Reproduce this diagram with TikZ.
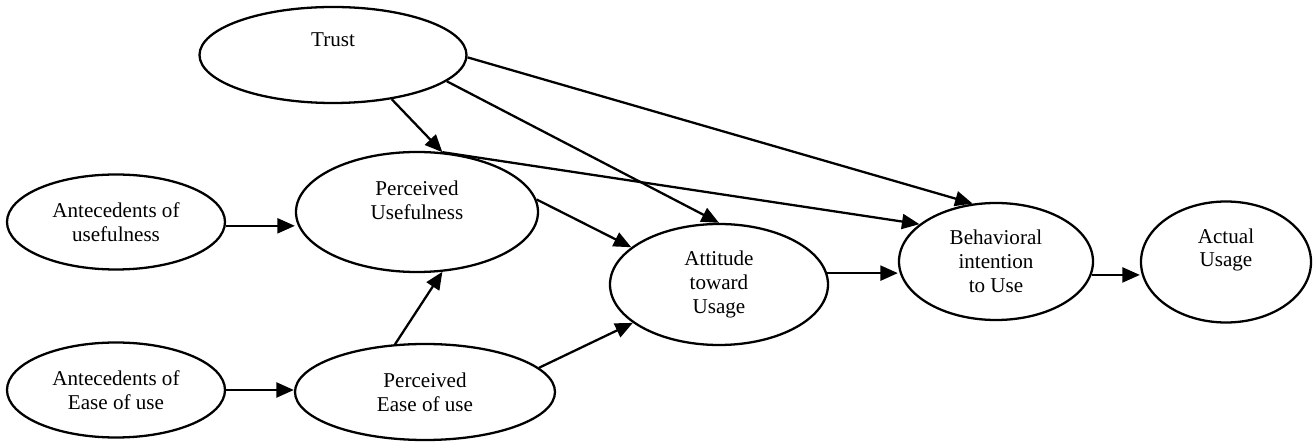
\documentclass[tikz,border=0pt]{standalone}
\usepackage{fontspec}
\setmainfont{Liberation Serif}
\usetikzlibrary{shapes.geometric,arrows.meta}
\tikzset{
  construct/.style={ellipse,draw,line width=1.3pt,inner sep=0pt,align=center,font=\fontsize{12}{13.5}\selectfont},
  lift/.style={text depth=#1},
}
\begin{document}
\begin{tikzpicture}[x=0.2mm,y=-0.2mm]
\useasboundingbox (0,0) rectangle (1316,444);
\node [construct,minimum width=53.4mm,minimum height=19.2mm,lift=6mm] (trust) at (333,55) {Trust};
\node [construct,minimum width=43.6mm,minimum height=19mm] (antu) at (116,222) {Antecedents of\\usefulness};
\node [construct,minimum width=43.6mm,minimum height=19mm] (ante) at (116,390) {Antecedents of\\Ease of use};
\node [construct,minimum width=48.4mm,minimum height=24mm,lift=4.8mm] (pu) at (417,212) {Perceived\\Usefulness};
\node [construct,minimum width=52mm,minimum height=19.2mm] (peou) at (425,392) {Perceived\\Ease of use};
\node [construct,minimum width=43.6mm,minimum height=24.2mm] (att) at (719,284.5) {Attitude\\toward\\Usage};
\node [construct,minimum width=38.8mm,minimum height=23.4mm] (bi) at (996,261.5) {Behavioral\\intention\\to Use};
\node [construct,minimum width=34mm,minimum height=24.2mm,lift=5.7mm] (au) at (1226,262) {Actual\\Usage};
\begin{scope}[line width=1.3pt,>={Triangle[length=3.5mm,width=3mm]}]
\draw [->] (trust.-37) -- (pu.67);
\draw [->] (trust.-13) -- (att.north);
\draw [->] (trust.-1) -- (bi.112);
\draw [->] (pu.67) -- (bi.154);
\draw [->] (antu.-2) -- (antu.-2 -| pu.west);
\draw [->] (pu.6) -- (att.157);
\draw [->] (ante.east) -- (ante.east -| peou.west);
\draw [->] (peou.122) -- (pu.-67);
\draw [->] (peou.12) -- (att.204);
\draw [->] (att.6) -- (att.6 -| bi.west);
\draw [->] (bi.-8) -- (bi.-8 -| au.west);
\end{scope}
\end{tikzpicture}
\end{document}
